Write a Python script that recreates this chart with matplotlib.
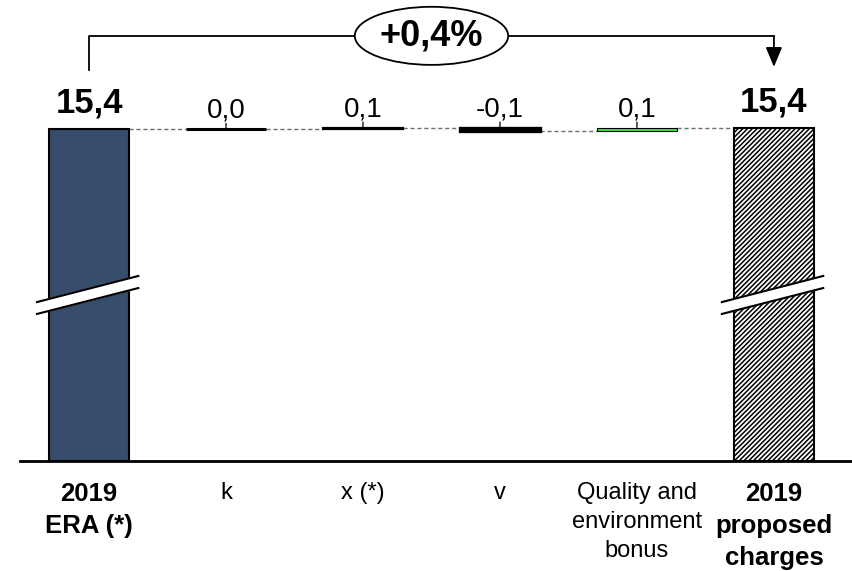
import matplotlib
matplotlib.use("Agg")
import matplotlib.pyplot as plt
from matplotlib.patches import Ellipse

plt.rcParams['font.family'] = ['Liberation Sans', 'DejaVu Sans']
plt.rcParams['hatch.linewidth'] = 1.1

# data
categories = ["2019\nERA (*)", "k", "x (*)", "v", "Quality and\nenvironment\nbonus",
              "2019\nproposed\ncharges"]
start_value = 15.38
deltas = [0.00, 0.06, -0.14, 0.14]
step_colors = ["black", "black", "black", "#3ee63e"]
step_lw = [2.2, 1.6, 2.4, 0.8]
change_label = "+0,4%"

end_value = start_value + sum(deltas)

def fmt(v):
    return f"{v:.1f}".replace(".", ",")

fig = plt.figure(figsize=(8.52, 5.71), dpi=100)
ax = fig.add_axes([20 / 852, 110 / 571, 832 / 852, 461 / 571])
ax.set_xlim(-0.504, 5.57)
ax.set_ylim(0, 21.35)

w = 0.58
# first total
ax.bar(0, start_value, width=w, color="#384c6b", edgecolor="black", linewidth=1.5, zorder=2)

# steps
level = start_value
prev_right = w / 2
for i, d in enumerate(deltas, start=1):
    ax.plot([prev_right, i - w / 2], [level, level], ls=(0, (3, 2)), color="#707070", lw=1, zorder=1)
    ax.bar(i, d, bottom=level, width=w, color=step_colors[i - 1], edgecolor="black",
           linewidth=step_lw[i - 1], zorder=2)
    top = max(level, level + d)
    ax.annotate("", xy=(i, top), xytext=(0, 4), textcoords="offset points",
                arrowprops=dict(arrowstyle="-", lw=0.9, color="black", shrinkA=0, shrinkB=0))
    ax.annotate(fmt(d), xy=(i, top), xytext=(0, 8), textcoords="offset points",
                ha="center", va="baseline", fontsize=20)
    level += d
    prev_right = i + w / 2
ax.plot([prev_right, 5 - w / 2], [level, level], ls=(0, (3, 2)), color="#707070", lw=1, zorder=1)

# final total
ax.bar(5, end_value, width=w, color="white", edgecolor="black", hatch="///////", linewidth=1.5, zorder=2)

for x, v in [(0, start_value), (5, end_value)]:
    ax.annotate(fmt(v), xy=(x, v), xytext=(0, 11.5), textcoords="offset points",
                ha="center", va="baseline", fontsize=25, fontweight="bold")
    # axis break marks
    bx = [x - 0.38, x + 0.36, x + 0.36, x - 0.38]
    by = [7.36, 8.57, 8.01, 6.81]
    ax.fill(bx, by, color="white", zorder=3)
    ax.plot(bx[:2], by[:2], color="black", lw=1.5, zorder=4)
    ax.plot(bx[2:], by[2:], color="black", lw=1.5, zorder=4)

# bracket with arrow
yb = start_value + 4.31
ax.plot([0, 0, 5], [start_value + 2.73, yb, yb], color="black", lw=1.3, zorder=1)
ax.annotate("", xy=(5, end_value + 2.81), xytext=(5, yb),
            arrowprops=dict(arrowstyle="-|>,head_width=0.5,head_length=1.2", color="black",
                            lw=1.3, shrinkA=0, shrinkB=0))
ax.add_patch(Ellipse((2.5, yb), 1.12, 2.69, facecolor="white", edgecolor="black", lw=1.3, zorder=3))
ax.text(2.5, yb, change_label, ha="center", va="center", fontsize=26, fontweight="bold", zorder=4)

# axes styling
for s in ["left", "right", "top"]:
    ax.spines[s].set_visible(False)
ax.spines["bottom"].set_linewidth(2)
ax.set_yticks([])
ax.set_xticks(range(len(categories)))
ax.set_xticklabels(categories, fontsize=17, linespacing=1.42)
ax.tick_params(axis="x", length=0, pad=15)
for idx in (0, len(categories) - 1):
    lab = ax.get_xticklabels()[idx]
    lab.set_fontweight("bold")
    lab.set_fontsize(18.5)

fig.savefig("out.png", dpi=100)
